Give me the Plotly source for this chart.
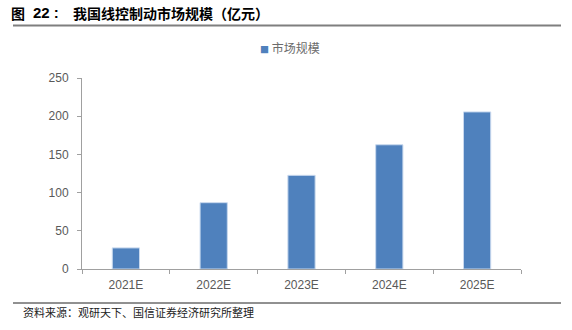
import plotly.graph_objects as go

categories = ["2021E", "2022E", "2023E", "2024E", "2025E"]
values = [27.6, 86.8, 122.6, 162.6, 205.6]
series_name = "市场规模"
title_fig = "<b>图</b>"
title_num = "<b>22 :</b>"
title_text = "<b>我国线控制动市场规模（亿元）</b>"
source_text = "资料来源：观研天下、国信证券经济研究所整理"

W, H = 572, 330
L, R, T, B = 82, 51, 78, 61
pw, ph = W - L - R, H - T - B
bar_color = "#4F81BD"

def px(x):
    return (x - L) / pw

def py(y):
    return (H - B - y) / ph

fig = go.Figure()
fig.add_trace(go.Bar(
    x=categories, y=values, name=series_name, showlegend=False,
    marker=dict(color=bar_color, line=dict(color="#C9D9EE", width=1)),
    width=0.31,
))

axis_color = "#A0A0A0"
tick_font = dict(family="Liberation Sans, Arial, sans-serif", size=12, color="#595959")

legend_text = ('<span style="color:%s;font-size:9px">■</span> %s' % (bar_color, series_name))

fig.update_layout(
    width=W, height=H,
    margin=dict(l=L, r=R, t=T, b=B),
    paper_bgcolor="white", plot_bgcolor="white",
    xaxis=dict(showline=True, linecolor=axis_color, linewidth=1, ticks="outside",
               tickson="boundaries", ticklen=4, tickcolor=axis_color, tickfont=tick_font,
               showgrid=False, ticklabelstandoff=5),
    yaxis=dict(range=[0, 250], dtick=50, showline=True, linecolor=axis_color, linewidth=1,
               ticks="outside", ticklen=4, tickcolor=axis_color, tickfont=tick_font,
               showgrid=False, zeroline=False, ticklabelstandoff=6),
    annotations=[
        dict(text=title_fig, xref="paper", yref="paper", x=px(9), y=py(13),
             xanchor="left", yanchor="middle", showarrow=False,
             font=dict(family="Noto Sans CJK SC", size=14, color="#000000")),
        dict(text=title_num, xref="paper", yref="paper", x=px(31), y=py(13),
             xanchor="left", yanchor="middle", showarrow=False,
             font=dict(family="Liberation Sans", size=15, color="#000000")),
        dict(text=title_text, xref="paper", yref="paper", x=px(71), y=py(13),
             xanchor="left", yanchor="middle", showarrow=False,
             font=dict(family="Noto Sans CJK SC", size=14, color="#000000")),
        dict(text=source_text, xref="paper", yref="paper", x=px(21), y=py(312),
             xanchor="left", yanchor="middle", showarrow=False,
             font=dict(family="Noto Sans CJK SC", size=11, color="#222222")),
        dict(text=legend_text, xref="paper", yref="paper", x=px(258), y=py(47),
             xanchor="left", yanchor="middle", showarrow=False,
             font=dict(family="Noto Sans CJK SC", size=12, color="#6B6B6B")),
    ],
    shapes=[
        dict(type="line", xref="paper", yref="paper", x0=px(13), x1=px(561), y0=py(25.5), y1=py(25.5),
             line=dict(color="#7F7F7F", width=2)),
        dict(type="line", xref="paper", yref="paper", x0=px(13), x1=px(561), y0=py(303), y1=py(303),
             line=dict(color="#222222", width=1)),
    ],
)

fig.write_html("out.html")
